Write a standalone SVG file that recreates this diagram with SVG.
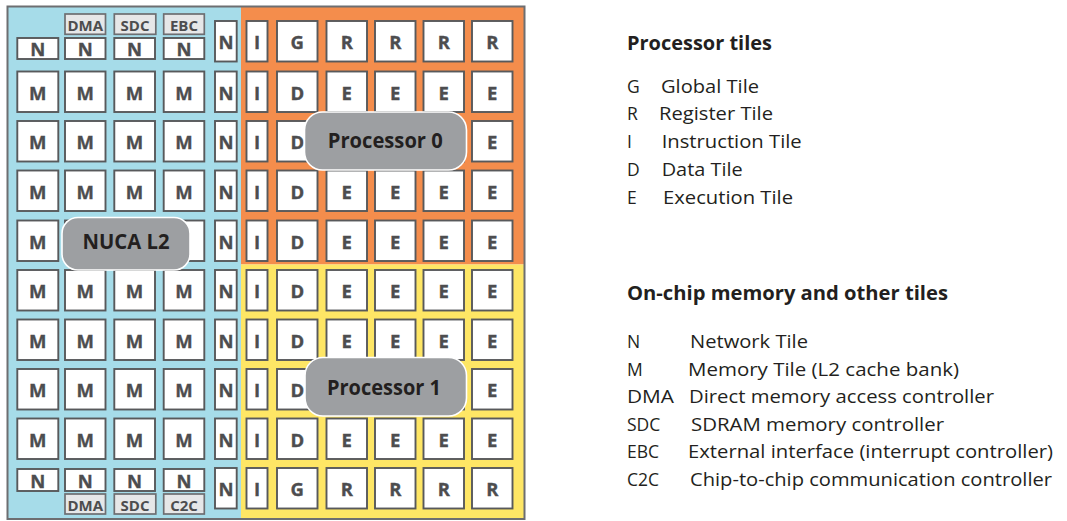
<svg xmlns="http://www.w3.org/2000/svg" width="1067" height="521" viewBox="0 0 1067 521">
  <style>
    .t { fill: #ffffff; stroke: #58595b; stroke-width: 1.9; }
    .s { fill: #e6e7e8; stroke: #6d6e71; stroke-width: 1.7; }
    .l { font-family: "Open Sans", "Liberation Sans", sans-serif; font-weight: 700; font-size: 18.5px; fill: #4d4d4f; stroke: #4d4d4f; stroke-width: 0.35; text-anchor: middle; }
    .sl { font-family: "Open Sans", "Liberation Sans", sans-serif; font-weight: 700; font-size: 15px; fill: #4d4d4f; text-anchor: middle; }
    .pill { fill: #9d9fa2; stroke: #ffffff; stroke-width: 1.6; }
    .pt { font-family: "Open Sans", "Liberation Sans", sans-serif; font-weight: 700; font-size: 20.5px; fill: #231f20; text-anchor: middle; }
    .h { font-family: "Open Sans", "Liberation Sans", sans-serif; font-weight: 700; font-size: 19px; fill: #231f20; }
    .d { font-family: "Open Sans", "Liberation Sans", sans-serif; font-size: 17.5px; fill: #231f20; }
  </style>

  <!-- chip outline and region fills -->
  <g id="floorplan">
    <rect x="8" y="7" width="233" height="511.5" fill="#a6dce9"/>
    <rect x="241" y="7" width="283" height="257.5" fill="#f48d4c"/>
    <rect x="241" y="264.5" width="283" height="254" fill="#fee665"/>
    <rect x="7.5" y="6.5" width="517" height="512.5" fill="none" stroke="#6d6e71" stroke-width="2"/>
  </g>

  <!-- NUCA L2 memory array: M tiles, network column and I/O controllers -->
  <g id="memory">
    <!-- row 1: small network tiles with controllers above -->
    <rect class="t" x="17.3" y="38" width="41" height="21"/>
    <rect class="t" x="65" y="38" width="40.5" height="21"/>
    <rect class="t" x="114.3" y="38" width="40.7" height="21"/>
    <rect class="t" x="163.7" y="38" width="40.6" height="21"/>
    <text class="l" x="37.8" y="55.7">N</text>
    <text class="l" x="85.2" y="55.7">N</text>
    <text class="l" x="134.6" y="55.7">N</text>
    <text class="l" x="184" y="55.7">N</text>
    <rect class="s" x="65" y="14" width="40.5" height="20.3"/>
    <rect class="s" x="114.3" y="14" width="41.5" height="20.3"/>
    <rect class="s" x="163.7" y="14" width="40.6" height="20.3"/>
    <text class="sl" x="85.2" y="30.7">DMA</text>
    <text class="sl" x="135" y="30.7">SDC</text>
    <text class="sl" x="184" y="30.7">EBC</text>

    <!-- rows 2-9: memory tiles -->
    <g id="mtiles">
      <rect class="t" x="17.3" y="71.5" width="41" height="40.5"/><rect class="t" x="65" y="71.5" width="40.5" height="40.5"/><rect class="t" x="114.3" y="71.5" width="40.7" height="40.5"/><rect class="t" x="163.7" y="71.5" width="40.6" height="40.5"/>
      <rect class="t" x="17.3" y="121" width="41" height="40.5"/><rect class="t" x="65" y="121" width="40.5" height="40.5"/><rect class="t" x="114.3" y="121" width="40.7" height="40.5"/><rect class="t" x="163.7" y="121" width="40.6" height="40.5"/>
      <rect class="t" x="17.3" y="170.5" width="41" height="40.5"/><rect class="t" x="65" y="170.5" width="40.5" height="40.5"/><rect class="t" x="114.3" y="170.5" width="40.7" height="40.5"/><rect class="t" x="163.7" y="170.5" width="40.6" height="40.5"/>
      <rect class="t" x="17.3" y="220.5" width="41" height="40.5"/><rect class="t" x="65" y="220.5" width="40.5" height="40.5"/><rect class="t" x="114.3" y="220.5" width="40.7" height="40.5"/><rect class="t" x="163.7" y="220.5" width="40.6" height="40.5"/>
      <rect class="t" x="17.3" y="270" width="41" height="40.5"/><rect class="t" x="65" y="270" width="40.5" height="40.5"/><rect class="t" x="114.3" y="270" width="40.7" height="40.5"/><rect class="t" x="163.7" y="270" width="40.6" height="40.5"/>
      <rect class="t" x="17.3" y="319.5" width="41" height="40.5"/><rect class="t" x="65" y="319.5" width="40.5" height="40.5"/><rect class="t" x="114.3" y="319.5" width="40.7" height="40.5"/><rect class="t" x="163.7" y="319.5" width="40.6" height="40.5"/>
      <rect class="t" x="17.3" y="369" width="41" height="40.5"/><rect class="t" x="65" y="369" width="40.5" height="40.5"/><rect class="t" x="114.3" y="369" width="40.7" height="40.5"/><rect class="t" x="163.7" y="369" width="40.6" height="40.5"/>
      <rect class="t" x="17.3" y="418.5" width="41" height="40.5"/><rect class="t" x="65" y="418.5" width="40.5" height="40.5"/><rect class="t" x="114.3" y="418.5" width="40.7" height="40.5"/><rect class="t" x="163.7" y="418.5" width="40.6" height="40.5"/>
    </g>
    <g id="mlabels">
      <text class="l" x="37.8" y="99.8">M</text><text class="l" x="85.2" y="99.8">M</text><text class="l" x="134.6" y="99.8">M</text><text class="l" x="184" y="99.8">M</text>
      <text class="l" x="37.8" y="149.3">M</text><text class="l" x="85.2" y="149.3">M</text><text class="l" x="134.6" y="149.3">M</text><text class="l" x="184" y="149.3">M</text>
      <text class="l" x="37.8" y="198.8">M</text><text class="l" x="85.2" y="198.8">M</text><text class="l" x="134.6" y="198.8">M</text><text class="l" x="184" y="198.8">M</text>
      <text class="l" x="37.8" y="248.8">M</text>
      <text class="l" x="37.8" y="298.3">M</text><text class="l" x="85.2" y="298.3">M</text><text class="l" x="134.6" y="298.3">M</text><text class="l" x="184" y="298.3">M</text>
      <text class="l" x="37.8" y="347.8">M</text><text class="l" x="85.2" y="347.8">M</text><text class="l" x="134.6" y="347.8">M</text><text class="l" x="184" y="347.8">M</text>
      <text class="l" x="37.8" y="397.3">M</text><text class="l" x="85.2" y="397.3">M</text><text class="l" x="134.6" y="397.3">M</text><text class="l" x="184" y="397.3">M</text>
      <text class="l" x="37.8" y="446.8">M</text><text class="l" x="85.2" y="446.8">M</text><text class="l" x="134.6" y="446.8">M</text><text class="l" x="184" y="446.8">M</text>
    </g>

    <!-- row 10: small network tiles with controllers below -->
    <rect class="t" x="17.3" y="469" width="41" height="22"/>
    <rect class="t" x="65" y="469" width="40.5" height="22"/>
    <rect class="t" x="114.3" y="469" width="40.7" height="22"/>
    <rect class="t" x="163.7" y="469" width="40.6" height="22"/>
    <text class="l" x="37.8" y="487.5">N</text>
    <text class="l" x="85.2" y="487.5">N</text>
    <text class="l" x="134.6" y="487.5">N</text>
    <text class="l" x="184" y="487.5">N</text>
    <rect class="s" x="65" y="494" width="40.5" height="20"/>
    <rect class="s" x="114.3" y="494" width="41.5" height="20"/>
    <rect class="s" x="163.7" y="494" width="40.6" height="20"/>
    <text class="sl" x="85.2" y="510.5">DMA</text>
    <text class="sl" x="135" y="510.5">SDC</text>
    <text class="sl" x="184" y="510.5">C2C</text>

    <!-- network column -->
    <g id="ncol">
      <rect class="t" x="215" y="21" width="21.7" height="40.5"/>
      <rect class="t" x="215" y="71.5" width="21.7" height="40.5"/>
      <rect class="t" x="215" y="121" width="21.7" height="40.5"/>
      <rect class="t" x="215" y="170.5" width="21.7" height="40.5"/>
      <rect class="t" x="215" y="220.5" width="21.7" height="40.5"/>
      <rect class="t" x="215" y="270" width="21.7" height="40.5"/>
      <rect class="t" x="215" y="319.5" width="21.7" height="40.5"/>
      <rect class="t" x="215" y="369" width="21.7" height="40.5"/>
      <rect class="t" x="215" y="418.5" width="21.7" height="40.5"/>
      <rect class="t" x="215" y="468" width="21.7" height="40.5"/>
      <text class="l" x="225.9" y="49.3">N</text>
      <text class="l" x="225.9" y="99.8">N</text>
      <text class="l" x="225.9" y="149.3">N</text>
      <text class="l" x="225.9" y="198.8">N</text>
      <text class="l" x="225.9" y="248.8">N</text>
      <text class="l" x="225.9" y="298.3">N</text>
      <text class="l" x="225.9" y="347.8">N</text>
      <text class="l" x="225.9" y="397.3">N</text>
      <text class="l" x="225.9" y="446.8">N</text>
      <text class="l" x="225.9" y="496.3">N</text>
    </g>
  </g>

  <!-- processor tile arrays -->
  <g id="processors">
    <g id="tiles">
      <rect class="t" x="246.5" y="21" width="21" height="40.5"/><rect class="t" x="277" y="21" width="40.5" height="40.5"/><rect class="t" x="326.5" y="21" width="40.5" height="40.5"/><rect class="t" x="375" y="21" width="40.5" height="40.5"/><rect class="t" x="423.5" y="21" width="40.5" height="40.5"/><rect class="t" x="472" y="21" width="40.5" height="40.5"/>
      <rect class="t" x="246.5" y="71.5" width="21" height="40.5"/><rect class="t" x="277" y="71.5" width="40.5" height="40.5"/><rect class="t" x="326.5" y="71.5" width="40.5" height="40.5"/><rect class="t" x="375" y="71.5" width="40.5" height="40.5"/><rect class="t" x="423.5" y="71.5" width="40.5" height="40.5"/><rect class="t" x="472" y="71.5" width="40.5" height="40.5"/>
      <rect class="t" x="246.5" y="121" width="21" height="40.5"/><rect class="t" x="277" y="121" width="40.5" height="40.5"/><rect class="t" x="326.5" y="121" width="40.5" height="40.5"/><rect class="t" x="375" y="121" width="40.5" height="40.5"/><rect class="t" x="423.5" y="121" width="40.5" height="40.5"/><rect class="t" x="472" y="121" width="40.5" height="40.5"/>
      <rect class="t" x="246.5" y="170.5" width="21" height="40.5"/><rect class="t" x="277" y="170.5" width="40.5" height="40.5"/><rect class="t" x="326.5" y="170.5" width="40.5" height="40.5"/><rect class="t" x="375" y="170.5" width="40.5" height="40.5"/><rect class="t" x="423.5" y="170.5" width="40.5" height="40.5"/><rect class="t" x="472" y="170.5" width="40.5" height="40.5"/>
      <rect class="t" x="246.5" y="220.5" width="21" height="40.5"/><rect class="t" x="277" y="220.5" width="40.5" height="40.5"/><rect class="t" x="326.5" y="220.5" width="40.5" height="40.5"/><rect class="t" x="375" y="220.5" width="40.5" height="40.5"/><rect class="t" x="423.5" y="220.5" width="40.5" height="40.5"/><rect class="t" x="472" y="220.5" width="40.5" height="40.5"/>
      <rect class="t" x="246.5" y="270" width="21" height="40.5"/><rect class="t" x="277" y="270" width="40.5" height="40.5"/><rect class="t" x="326.5" y="270" width="40.5" height="40.5"/><rect class="t" x="375" y="270" width="40.5" height="40.5"/><rect class="t" x="423.5" y="270" width="40.5" height="40.5"/><rect class="t" x="472" y="270" width="40.5" height="40.5"/>
      <rect class="t" x="246.5" y="319.5" width="21" height="40.5"/><rect class="t" x="277" y="319.5" width="40.5" height="40.5"/><rect class="t" x="326.5" y="319.5" width="40.5" height="40.5"/><rect class="t" x="375" y="319.5" width="40.5" height="40.5"/><rect class="t" x="423.5" y="319.5" width="40.5" height="40.5"/><rect class="t" x="472" y="319.5" width="40.5" height="40.5"/>
      <rect class="t" x="246.5" y="369" width="21" height="40.5"/><rect class="t" x="277" y="369" width="40.5" height="40.5"/><rect class="t" x="326.5" y="369" width="40.5" height="40.5"/><rect class="t" x="375" y="369" width="40.5" height="40.5"/><rect class="t" x="423.5" y="369" width="40.5" height="40.5"/><rect class="t" x="472" y="369" width="40.5" height="40.5"/>
      <rect class="t" x="246.5" y="418.5" width="21" height="40.5"/><rect class="t" x="277" y="418.5" width="40.5" height="40.5"/><rect class="t" x="326.5" y="418.5" width="40.5" height="40.5"/><rect class="t" x="375" y="418.5" width="40.5" height="40.5"/><rect class="t" x="423.5" y="418.5" width="40.5" height="40.5"/><rect class="t" x="472" y="418.5" width="40.5" height="40.5"/>
      <rect class="t" x="246.5" y="468" width="21" height="40.5"/><rect class="t" x="277" y="468" width="40.5" height="40.5"/><rect class="t" x="326.5" y="468" width="40.5" height="40.5"/><rect class="t" x="375" y="468" width="40.5" height="40.5"/><rect class="t" x="423.5" y="468" width="40.5" height="40.5"/><rect class="t" x="472" y="468" width="40.5" height="40.5"/>
    </g>
    <g id="plabels">
      <text class="l" x="257" y="49.3">I</text><text class="l" x="297.3" y="49.3">G</text><text class="l" x="346.8" y="49.3">R</text><text class="l" x="395.3" y="49.3">R</text><text class="l" x="443.8" y="49.3">R</text><text class="l" x="492.3" y="49.3">R</text>
      <text class="l" x="257" y="99.8">I</text><text class="l" x="297.3" y="99.8">D</text><text class="l" x="346.8" y="99.8">E</text><text class="l" x="395.3" y="99.8">E</text><text class="l" x="443.8" y="99.8">E</text><text class="l" x="492.3" y="99.8">E</text>
      <text class="l" x="257" y="149.3">I</text><text class="l" x="297.3" y="149.3">D</text><text class="l" x="492.3" y="149.3">E</text>
      <text class="l" x="257" y="198.8">I</text><text class="l" x="297.3" y="198.8">D</text><text class="l" x="346.8" y="198.8">E</text><text class="l" x="395.3" y="198.8">E</text><text class="l" x="443.8" y="198.8">E</text><text class="l" x="492.3" y="198.8">E</text>
      <text class="l" x="257" y="248.8">I</text><text class="l" x="297.3" y="248.8">D</text><text class="l" x="346.8" y="248.8">E</text><text class="l" x="395.3" y="248.8">E</text><text class="l" x="443.8" y="248.8">E</text><text class="l" x="492.3" y="248.8">E</text>
      <text class="l" x="257" y="298.3">I</text><text class="l" x="297.3" y="298.3">D</text><text class="l" x="346.8" y="298.3">E</text><text class="l" x="395.3" y="298.3">E</text><text class="l" x="443.8" y="298.3">E</text><text class="l" x="492.3" y="298.3">E</text>
      <text class="l" x="257" y="347.8">I</text><text class="l" x="297.3" y="347.8">D</text><text class="l" x="346.8" y="347.8">E</text><text class="l" x="395.3" y="347.8">E</text><text class="l" x="443.8" y="347.8">E</text><text class="l" x="492.3" y="347.8">E</text>
      <text class="l" x="257" y="397.3">I</text><text class="l" x="297.3" y="397.3">D</text><text class="l" x="492.3" y="397.3">E</text>
      <text class="l" x="257" y="446.8">I</text><text class="l" x="297.3" y="446.8">D</text><text class="l" x="346.8" y="446.8">E</text><text class="l" x="395.3" y="446.8">E</text><text class="l" x="443.8" y="446.8">E</text><text class="l" x="492.3" y="446.8">E</text>
      <text class="l" x="257" y="496.3">I</text><text class="l" x="297.3" y="496.3">G</text><text class="l" x="346.8" y="496.3">R</text><text class="l" x="395.3" y="496.3">R</text><text class="l" x="443.8" y="496.3">R</text><text class="l" x="492.3" y="496.3">R</text>
    </g>
  </g>

  <!-- region name badges -->
  <g id="nuca-l2">
    <rect class="pill" x="62" y="217.5" width="128" height="52.5" rx="16"/>
    <text class="pt" x="126" y="249" textLength="87" lengthAdjust="spacingAndGlyphs">NUCA L2</text>
  </g>
  <g id="processor-0">
    <rect class="pill" x="304.5" y="112" width="162" height="58" rx="18"/>
    <text class="pt" x="385.3" y="147.5" textLength="115" lengthAdjust="spacingAndGlyphs">Processor 0</text>
  </g>
  <g id="processor-1">
    <rect class="pill" x="305" y="357.5" width="161.5" height="58.5" rx="18"/>
    <text class="pt" x="384" y="394.5" textLength="114" lengthAdjust="spacingAndGlyphs">Processor 1</text>
  </g>

  <!-- key -->
  <g id="key-processor">
    <text class="h" x="627" y="49.8" textLength="145" lengthAdjust="spacingAndGlyphs">Processor tiles</text>
    <text class="d" x="627" y="92.7">G</text>
    <text class="d" x="661" y="92.7" textLength="98" lengthAdjust="spacingAndGlyphs">Global Tile</text>
    <text class="d" x="627" y="120.3">R</text>
    <text class="d" x="659" y="120.3" textLength="114" lengthAdjust="spacingAndGlyphs">Register Tile</text>
    <text class="d" x="627" y="148">I</text>
    <text class="d" x="661.7" y="148" textLength="140" lengthAdjust="spacingAndGlyphs">Instruction Tile</text>
    <text class="d" x="627" y="175.7">D</text>
    <text class="d" x="661.7" y="175.7" textLength="81" lengthAdjust="spacingAndGlyphs">Data Tile</text>
    <text class="d" x="627" y="203.5">E</text>
    <text class="d" x="663" y="203.5" textLength="130" lengthAdjust="spacingAndGlyphs">Execution Tile</text>
  </g>
  <g id="key-memory">
    <text class="h" x="627" y="299.5" textLength="321" lengthAdjust="spacingAndGlyphs">On-chip memory and other tiles</text>
    <text class="d" x="627" y="348.3">N</text>
    <text class="d" x="690" y="348.3" textLength="118" lengthAdjust="spacingAndGlyphs">Network Tile</text>
    <text class="d" x="627" y="376">M</text>
    <text class="d" x="688" y="376" textLength="271" lengthAdjust="spacingAndGlyphs">Memory Tile (L2 cache bank)</text>
    <text class="d" x="627" y="403.3" textLength="47" lengthAdjust="spacingAndGlyphs">DMA</text>
    <text class="d" x="689" y="403.3" textLength="305" lengthAdjust="spacingAndGlyphs">Direct memory access controller</text>
    <text class="d" x="627" y="430.7">SDC</text>
    <text class="d" x="691" y="430.7" textLength="253" lengthAdjust="spacingAndGlyphs">SDRAM memory controller</text>
    <text class="d" x="627" y="458.3">EBC</text>
    <text class="d" x="688" y="458.3" textLength="365" lengthAdjust="spacingAndGlyphs">External interface (interrupt controller)</text>
    <text class="d" x="627" y="486">C2C</text>
    <text class="d" x="690" y="486" textLength="362" lengthAdjust="spacingAndGlyphs">Chip-to-chip communication controller</text>
  </g>
</svg>
